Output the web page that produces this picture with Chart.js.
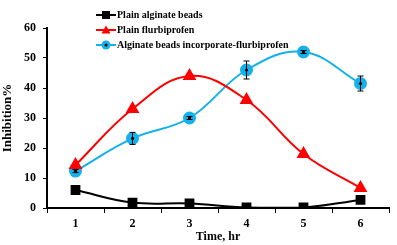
<!DOCTYPE html>
<html lang="en">
<head>
  <meta charset="UTF-8">
  <title>Inhibition</title>
  <script src="https://cdn.jsdelivr.net/npm/chart.js"></script>
  <style>
    html, body { margin: 0; padding: 0; background: #fff; }
    #wrap { width: 397px; height: 245px; }
  </style>
</head>
<body>
  <div id="wrap"><canvas id="chart"></canvas></div>
  <script>
    const hours = ['1', '2', '3', '4', '5', '6'];
    const plainBeads = [6, 1.8, 1.5, 0.2, 0.2, 2.7];
    const plainDrug = [14.3, 33, 44, 36, 18, 6.7];
    const loadedBeads = [12.3, 23.2, 30, 46, 52, 41.5];
    const loadedErr = [0.5, 2, 0.5, 3, 0.5, 2.5];

    const font = 'Liberation Serif';
    const blue = '#14B1EA';

    // error bars for the loaded beads series
    const errorBars = {
      id: 'errorBars',
      afterDatasetsDraw(chart) {
        const ctx = chart.ctx, y = chart.scales.y;
        const meta = chart.getDatasetMeta(2);
        ctx.save();
        ctx.strokeStyle = '#000';
        ctx.lineWidth = 1;
        meta.data.forEach((pt, i) => {
          const top = y.getPixelForValue(loadedBeads[i] + loadedErr[i]);
          const bot = y.getPixelForValue(loadedBeads[i] - loadedErr[i]);
          ctx.beginPath();
          ctx.moveTo(pt.x, top); ctx.lineTo(pt.x, bot);
          ctx.moveTo(pt.x - 3, top); ctx.lineTo(pt.x + 3, top);
          ctx.moveTo(pt.x - 3, bot); ctx.lineTo(pt.x + 3, bot);
          ctx.stroke();
          // black centre dot
          ctx.fillStyle = '#000';
          ctx.beginPath();
          ctx.arc(pt.x, pt.y, 1.6, 0, Math.PI * 2);
          ctx.fill();
        });
        ctx.restore();
      }
    };

    // legend drawn like the original: line + marker + bold text
    const lineLegend = {
      id: 'lineLegend',
      afterDraw(chart) {
        const ctx = chart.ctx;
        const x0 = 96, x1 = 116, rows = [15, 30, 45];
        ctx.save();
        chart.data.datasets.forEach((ds, i) => {
          const yy = rows[i];
          ctx.strokeStyle = ds.borderColor;
          ctx.lineWidth = 2;
          ctx.beginPath(); ctx.moveTo(x0, yy); ctx.lineTo(x1, yy); ctx.stroke();
          const cx = (x0 + x1) / 2;
          ctx.fillStyle = ds.pointBackgroundColor;
          if (ds.pointStyle === 'rect') {
            ctx.fillRect(cx - 4, yy - 4, 8, 8);
          } else if (ds.pointStyle === 'triangle') {
            ctx.beginPath();
            ctx.moveTo(cx, yy - 4.5); ctx.lineTo(cx + 4.5, yy + 3.5); ctx.lineTo(cx - 4.5, yy + 3.5);
            ctx.closePath(); ctx.fill();
          } else {
            ctx.beginPath(); ctx.arc(cx, yy, 4.5, 0, Math.PI * 2); ctx.fill();
            ctx.fillStyle = '#000';
            ctx.beginPath(); ctx.arc(cx, yy, 1.5, 0, Math.PI * 2); ctx.fill();
          }
          ctx.fillStyle = '#000';
          ctx.font = 'bold 10px "' + font + '"';
          ctx.textBaseline = 'middle';
          ctx.fillText(ds.label, x1 + 1, yy + 0.5);
        });
        ctx.restore();
      }
    };

    new Chart(document.getElementById('chart'), {
      type: 'line',
      data: {
        labels: hours,
        datasets: [
          {
            label: 'Plain alginate beads',
            data: plainBeads,
            borderColor: '#000',
            pointBackgroundColor: '#000',
            pointBorderColor: '#000',
            pointStyle: 'rect',
            pointRadius: 5.5,
            borderWidth: 2,
            tension: 0.4
          },
          {
            label: 'Plain flurbiprofen',
            data: plainDrug,
            borderColor: '#FF0000',
            pointBackgroundColor: '#FF0000',
            pointBorderColor: '#FF0000',
            pointStyle: 'triangle',
            pointRadius: 6,
            borderWidth: 2,
            tension: 0.4
          },
          {
            label: 'Alginate beads incorporate-flurbiprofen',
            data: loadedBeads,
            borderColor: blue,
            pointBackgroundColor: blue,
            pointBorderColor: blue,
            pointStyle: 'circle',
            pointRadius: 5.5,
            borderWidth: 2,
            tension: 0.4
          }
        ]
      },
      options: {
        responsive: true,
        maintainAspectRatio: false,
        animation: false,
        layout: { padding: { top: 28, right: 3, left: 0, bottom: 0 } },
        plugins: {
          legend: { display: false },
          tooltip: { enabled: false }
        },
        scales: {
          x: {
            offset: true,
            grid: { offset: true, drawOnChartArea: false, color: '#000', tickLength: 5, tickColor: '#000' },
            border: { color: '#000', width: 2 },
            ticks: { color: '#000', font: { family: font, size: 12, weight: 'bold' }, padding: 4 },
            title: { display: true, text: 'Time, hr', color: '#000', font: { family: font, size: 12, weight: 'bold' }, padding: { top: 0, bottom: 1 } },
            afterFit(s) { s.height = 37; }
          },
          y: {
            min: 0,
            max: 60,
            ticks: { stepSize: 10, color: '#000', font: { family: font, size: 12, weight: 'bold' }, padding: 7 },
            grid: { drawOnChartArea: false, color: '#000', tickLength: 4, tickColor: '#000' },
            border: { color: '#000', width: 2 },
            title: { display: true, text: 'Inhibition%', color: '#000', font: { family: font, size: 13, weight: 'bold' }, padding: 0 },
            afterFit(s) { s.width = 47; }
          }
        }
      },
      plugins: [errorBars, lineLegend]
    });
  </script>
</body>
</html>
